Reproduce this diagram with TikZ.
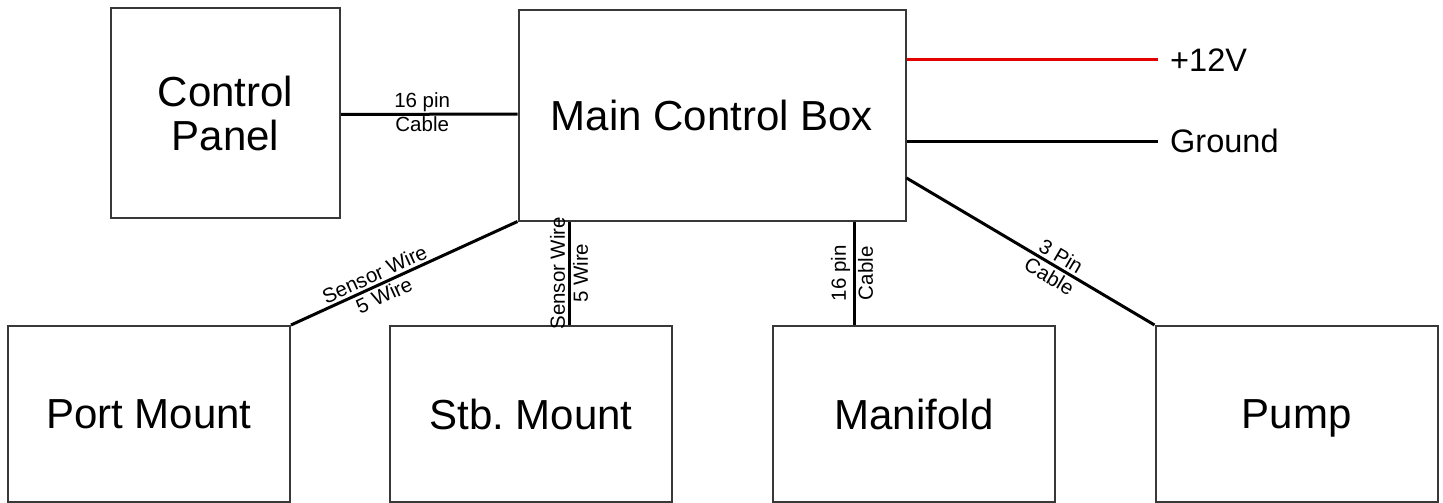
\documentclass[tikz,border=0pt]{standalone}
\usepackage{fontspec}
\setmainfont{Liberation Sans}
\frenchspacing
\begin{document}
\begin{tikzpicture}[x=1pt,y=-1pt,
  box/.style={draw=black!78,line width=2pt,rectangle,inner sep=0pt,align=center,font=\fontsize{42}{45}\selectfont},
  wire/.style={line width=3pt,black},
  lbl/.style={font=\fontsize{20.5}{22}\selectfont,inner sep=2.5pt},
  term/.style={font=\fontsize{32.5}{34}\selectfont,anchor=west,inner sep=0pt}]
\useasboundingbox (0,0) rectangle (1443,503);
\node[box,minimum width=229pt,minimum height=210pt] (cp) at (225.5,113) {Control\\[-1pt]Panel};
\node[box,minimum width=387pt,minimum height=210pt,text depth=0pt] (main) at (712,115.5) {Main Control Box};
\node[box,minimum width=282pt,minimum height=176pt] (port) at (149,414) {Port Mount};
\node[box,minimum width=282pt,minimum height=176pt] (stb) at (531,414) {Stb.\ Mount};
\node[box,minimum width=282pt,minimum height=176pt] (man) at (914,414) {Manifold};
\node[box,minimum width=282pt,minimum height=176pt,text depth=0pt] (pump) at (1296.5,414) {Pump};
\node[term] (v12) at (1170,60) {+12V};
\node[term] (gnd) at (1170,141) {Ground};
% connectors
\draw[wire] ([yshift=-1.5pt]cp.east) -- ([yshift=1.5pt]main.west)
  node[lbl,pos=0.46,above,inner sep=1pt] {16 pin}
  node[lbl,pos=0.46,below,inner sep=1pt] {Cable};
\draw[wire] (port.north east) -- (main.south west)
  node[lbl,pos=0.39,sloped,above] {Sensor Wire}
  node[lbl,pos=0.39,sloped,below] {5 Wire};
\draw[wire] ([xshift=38pt]stb.north) -- ([xshift=38pt]stb.north |- main.south)
  node[lbl,midway,sloped,above] {Sensor Wire}
  node[lbl,midway,sloped,below] {5 Wire};
\draw[wire] ([xshift=-60pt]man.north) -- ([xshift=-60pt]man.north |- main.south)
  node[lbl,midway,sloped,above] {16 pin}
  node[lbl,midway,sloped,below] {Cable};
\draw[wire] ([yshift=-62.5pt]main.east) -- (pump.north west)
  node[lbl,pos=0.6,sloped,above] {3 Pin}
  node[lbl,pos=0.6,sloped,below] {Cable};
\draw[line width=3pt,red!90!black] (main.east |- v12.west) -- ([xshift=-12pt]v12.west);
\draw[wire] (main.east |- gnd.west) -- ([xshift=-12pt]gnd.west);
\end{tikzpicture}
\end{document}
